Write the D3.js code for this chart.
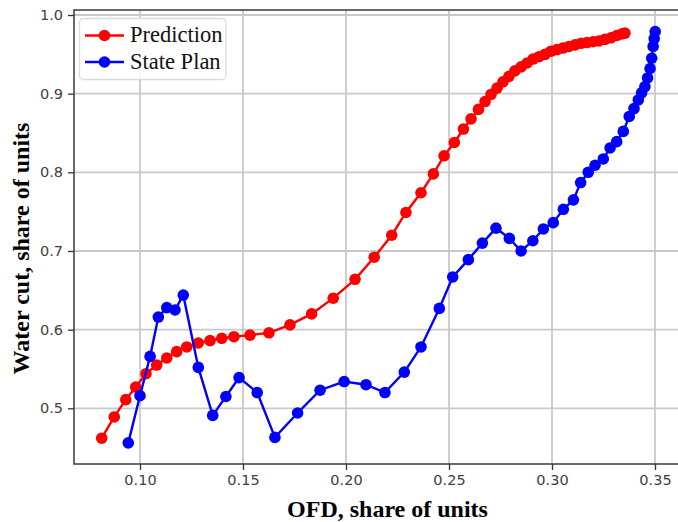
<!DOCTYPE html>
<html>
<head>
<meta charset="utf-8">
<script src="https://cdn.jsdelivr.net/npm/d3@7"></script>
<style>
  html, body { margin: 0; padding: 0; background: #fff; }
  svg { display: block; }
</style>
</head>
<body>
<svg id="chart" width="678" height="522"></svg>
<script>
// Prediction series: OFD (x) and water cut (y)
const predOFD = [
  0.0814, 0.0875, 0.0931, 0.0979, 0.1029, 0.1081, 0.1130, 0.1178, 0.1227, 0.1283,
  0.1340, 0.1397, 0.1456, 0.1534, 0.1626, 0.1728, 0.1833, 0.1938, 0.2044, 0.2137,
  0.2222, 0.2291, 0.2364, 0.2424, 0.2476, 0.2526, 0.2570, 0.2607, 0.2643, 0.2675,
  0.2704, 0.2733, 0.2762, 0.2791, 0.2820, 0.2850, 0.2879, 0.2908, 0.2937, 0.2966,
  0.2995, 0.3024, 0.3053, 0.3082, 0.3112, 0.3141, 0.3170, 0.3199, 0.3228, 0.3257,
  0.3286, 0.3315, 0.3340, 0.3354
];
const predWaterCut = [
  0.462, 0.489, 0.511, 0.527, 0.544, 0.555, 0.564, 0.572, 0.578, 0.583,
  0.586, 0.589, 0.591, 0.593, 0.596, 0.606, 0.620, 0.640, 0.664, 0.692,
  0.720, 0.749, 0.774, 0.798, 0.821, 0.838, 0.855, 0.868, 0.880, 0.890,
  0.899, 0.907, 0.915, 0.922, 0.929, 0.934, 0.939, 0.944, 0.947, 0.950,
  0.954, 0.956, 0.958, 0.960, 0.962, 0.964, 0.965, 0.966, 0.967, 0.969,
  0.971, 0.974, 0.976, 0.977
];

// State plan series
const planOFD = [
  0.0943, 0.1000, 0.1049, 0.1089, 0.1130, 0.1170, 0.1210, 0.1283, 0.1353, 0.1417,
  0.1481, 0.1569, 0.1655, 0.1765, 0.1874, 0.1991, 0.2097, 0.2189, 0.2283, 0.2364,
  0.2453, 0.2518, 0.2594, 0.2662, 0.2728, 0.2793, 0.2850, 0.2907, 0.2958, 0.3006,
  0.3055, 0.3104, 0.3139, 0.3176, 0.3209, 0.3249, 0.3282, 0.3314, 0.3346, 0.3375,
  0.3398, 0.3419, 0.3435, 0.3451, 0.3464, 0.3476, 0.3484, 0.3491, 0.3496, 0.3501
];
const planWaterCut = [
  0.456, 0.516, 0.566, 0.616, 0.628, 0.625, 0.644, 0.552, 0.491, 0.515,
  0.539, 0.520, 0.463, 0.494, 0.523, 0.534, 0.530, 0.520, 0.546, 0.578,
  0.627, 0.667, 0.689, 0.710, 0.729, 0.716, 0.700, 0.713, 0.728, 0.736,
  0.753, 0.765, 0.787, 0.800, 0.809, 0.817, 0.831, 0.839, 0.852, 0.871,
  0.881, 0.892, 0.901, 0.909, 0.920, 0.932, 0.945, 0.960, 0.970, 0.979
];

const xTicks = [0.10, 0.15, 0.20, 0.25, 0.30, 0.35];
const yTicks = [0.5, 0.6, 0.7, 0.8, 0.9, 1.0];

const seriesNames = ["Prediction", "State Plan"];
const seriesColors = ["#ff0000", "#0000ff"];

const svg = d3.select("#chart");

// Plot frame (right edge runs off the canvas)
const frame = { left: 74, top: 10, right: 690, bottom: 464 };

const x = d3.scaleLinear().domain([0.10, 0.35]).range([140, 655]);
const y = d3.scaleLinear().domain([0.5, 1.0]).range([408.3, 15]);

// Grid
const grid = svg.append("g").attr("stroke", "#c9c9c9").attr("stroke-width", 1.8);
grid.selectAll("line.gx").data(xTicks).join("line")
  .attr("x1", d => x(d)).attr("x2", d => x(d))
  .attr("y1", frame.top).attr("y2", frame.bottom);
grid.selectAll("line.gy").data(yTicks).join("line")
  .attr("x1", frame.left).attr("x2", frame.right)
  .attr("y1", d => y(d)).attr("y2", d => y(d));

// Axes
const xAxis = d3.axisBottom(x).tickValues(xTicks).tickFormat(d3.format(".2f"))
  .tickSizeInner(6).tickSizeOuter(0).tickPadding(5);
const yAxis = d3.axisLeft(y).tickValues(yTicks).tickFormat(d3.format(".1f"))
  .tickSizeInner(6).tickSizeOuter(0).tickPadding(5);

const gx = svg.append("g").attr("transform", `translate(0,${frame.bottom})`).call(xAxis);
const gy = svg.append("g").attr("transform", `translate(${frame.left},0)`).call(yAxis);
[gx, gy].forEach(g => {
  g.select(".domain").remove();
  g.selectAll(".tick line").attr("stroke", "#333").attr("stroke-width", 1.3);
  g.selectAll(".tick text")
    .attr("fill", "#404040")
    .style("font-family", "'DejaVu Sans', sans-serif")
    .style("font-size", "14.5px");
});

// Spines
svg.append("rect")
  .attr("x", frame.left).attr("y", frame.top)
  .attr("width", frame.right - frame.left).attr("height", frame.bottom - frame.top)
  .attr("fill", "none").attr("stroke", "#3a3a3a").attr("stroke-width", 1.5);

// Series
const series = [
  { name: seriesNames[0], color: seriesColors[0], xs: predOFD, ys: predWaterCut },
  { name: seriesNames[1], color: seriesColors[1], xs: planOFD, ys: planWaterCut }
];
const line = d3.line().x(d => x(d[0])).y(d => y(d[1]));

series.forEach(s => {
  const pts = s.xs.map((v, i) => [v, s.ys[i]]);
  const g = svg.append("g");
  g.append("path").datum(pts)
    .attr("d", line).attr("fill", "none")
    .attr("stroke", s.color).attr("stroke-width", 2.4);
  g.selectAll("circle").data(pts).join("circle")
    .attr("cx", d => x(d[0])).attr("cy", d => y(d[1]))
    .attr("r", 5.8).attr("fill", s.color);
});

// Legend
const legend = svg.append("g");
legend.append("rect")
  .attr("x", 79.5).attr("y", 18.5).attr("width", 146.5).attr("height", 61)
  .attr("rx", 4).attr("fill", "#fff").attr("fill-opacity", 0.85)
  .attr("stroke", "#dcdcdc").attr("stroke-width", 1.3);
series.forEach((s, i) => {
  const cy = 35.5 + i * 26.5;
  legend.append("line")
    .attr("x1", 85).attr("x2", 124).attr("y1", cy).attr("y2", cy)
    .attr("stroke", s.color).attr("stroke-width", 2.4);
  legend.append("circle").attr("cx", 104.5).attr("cy", cy).attr("r", 5.8).attr("fill", s.color);
  legend.append("text")
    .attr("x", 130).attr("y", cy + 6.5)
    .style("font-family", "'Liberation Serif', 'Times New Roman', serif")
    .style("font-size", "22.5px").attr("fill", "#111")
    .text(s.name);
});

// Axis titles
svg.append("text")
  .attr("x", 387.5).attr("y", 516.5).attr("text-anchor", "middle")
  .style("font-family", "'Liberation Serif', 'Times New Roman', serif")
  .style("font-size", "24px").style("font-weight", "bold").attr("fill", "#000")
  .text("OFD, share of units");
svg.append("text")
  .attr("transform", "translate(29,248.5) rotate(-90)").attr("text-anchor", "middle")
  .style("font-family", "'Liberation Serif', 'Times New Roman', serif")
  .style("font-size", "24px").style("font-weight", "bold").attr("fill", "#000")
  .text("Water cut, share of units");
</script>
</body>
</html>
